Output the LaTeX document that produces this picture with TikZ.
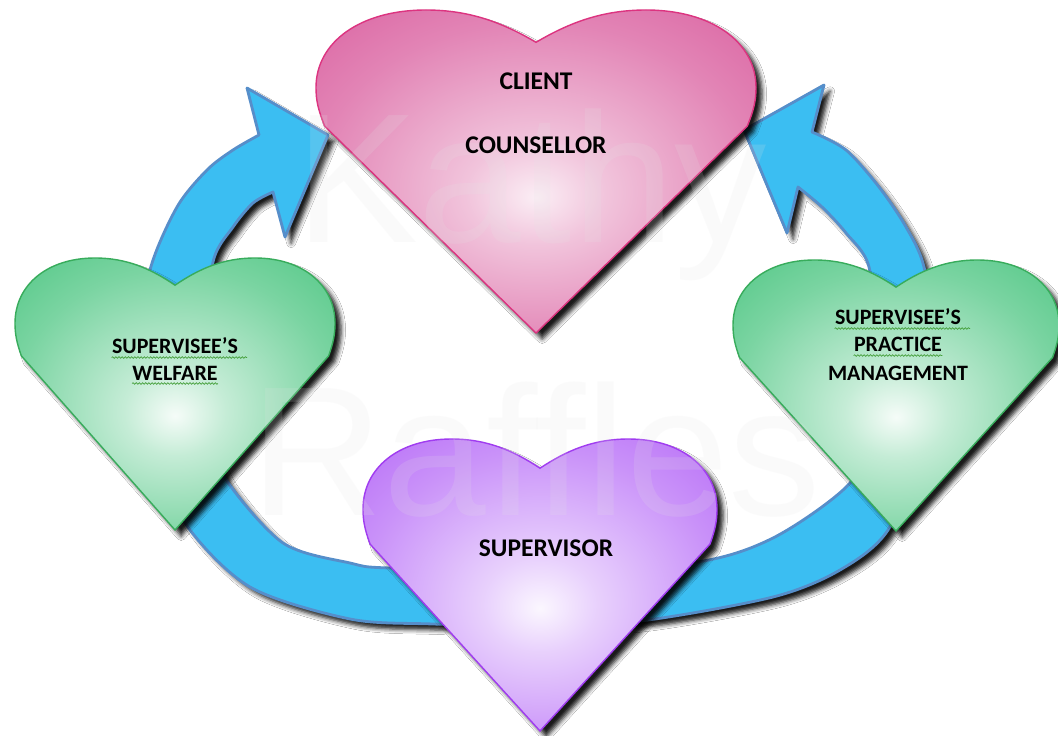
\documentclass[tikz,border=0pt]{standalone}
\usepackage{fontspec}
\setmainfont{Carlito}
\newfontfamily\markfont{Liberation Sans}
\usetikzlibrary{shadows.blur,decorations.pathmorphing}

\definecolor{pinkline}{RGB}{220,52,128}
\definecolor{pinkfill}{RGB}{214,80,150}
\definecolor{greenline}{RGB}{56,172,92}
\definecolor{greenfill}{RGB}{60,192,118}
\definecolor{violetline}{RGB}{160,60,240}
\definecolor{violetfill}{RGB}{174,90,246}
\definecolor{ringfill}{RGB}{59,190,242}
\definecolor{ringline}{RGB}{86,142,202}
\definecolor{squig}{RGB}{70,160,60}

\pgfdeclareradialshading{pinkglow}{\pgfpoint{0bp}{-4bp}}{color(0bp)=(pinkfill!10!white); color(8bp)=(pinkfill!34!white); color(25bp)=(pinkfill!70!white); color(40bp)=(pinkfill!94!white); color(50bp)=(pinkfill)}
\pgfdeclareradialshading{greenglow}{\pgfpoint{0bp}{-4bp}}{color(0bp)=(greenfill!5!white); color(8bp)=(greenfill!30!white); color(25bp)=(greenfill!68!white); color(40bp)=(greenfill!94!white); color(50bp)=(greenfill)}
\pgfdeclareradialshading{violetglow}{\pgfpoint{0bp}{-4bp}}{color(0bp)=(violetfill!5!white); color(8bp)=(violetfill!28!white); color(25bp)=(violetfill!66!white); color(40bp)=(violetfill!94!white); color(50bp)=(violetfill)}

\tikzset{
  soft shadow/.style={blur shadow={shadow xshift=3.5pt, shadow yshift=-3.5pt,
      shadow blur radius=2.5pt, shadow opacity=90}},
  heart/.style={draw=#1line, line width=0.8pt, shade, shading=#1glow, soft shadow},
  ring/.style={draw=ringline, line width=1.6pt, fill=ringfill, line join=round, soft shadow},
  watermark/.style={inner sep=0pt, text=gray!20, text opacity=0.16,
      font=\markfont\fontsize{105}{110}\selectfont},
  biglabel/.style={anchor=base, inner sep=0pt, font=\bfseries\fontsize{14.5}{17}\selectfont},
  smalllabel/.style={anchor=base, inner sep=0pt, font=\bfseries\fontsize{12.5}{15}\selectfont},
  squiggle/.style={draw=squig, line width=0.4pt, decorate,
      decoration={snake, amplitude=0.45pt, segment length=1.8pt}},
  pics/heart/.style={code={
    \path[heart=#1] (0,1) -- (-0.96,0.36)
      .. controls (-0.99,0.31) and (-1,0.28) .. (-1,0.24)
      .. controls (-1,0.1) and (-0.8,0) .. (-0.5,0)
      .. controls (-0.3,0) and (-0.15,0.04) .. (0,0.1)
      .. controls (0.15,0.04) and (0.3,0) .. (0.5,0)
      .. controls (0.8,0) and (1,0.1) .. (1,0.24)
      .. controls (1,0.28) and (0.99,0.31) .. (0.96,0.36) -- cycle;
  }}
}

\begin{document}
\begin{tikzpicture}[x=0.02cm, y=-0.02cm]
  \useasboundingbox[fill=white] (0,0) rectangle (1058,736);

  % Ring
  \path[ring] plot[smooth] coordinates {(560,627) (433,624) (350,619) (250,587) (185,523)
      (150,440) (140,350) (150,270) (177,207) (207,170) (233,150) (259,135)}
    -- (247,88) -- (328,135) -- (285,237)
    -- plot[smooth] coordinates {(273,192) (253,203) (233,227) (213,262) (205,350)
      (212,430) (225,478) (283,543) (350,563) (390,568) (560,570)} -- cycle;
  \path[ring] plot[smooth] coordinates {(520,627) (640,621) (773,597) (840,570) (888,530)
      (925,440) (937,350) (924,267) (906,227) (879,187) (846,150) (812,132)}
    -- (824,85) -- (744,130) -- (787,233)
    -- plot[smooth] coordinates {(798,187) (822,207) (846,233) (869,267) (876,350)
      (866,430) (850,483) (773,538) (690,563) (520,570)} -- cycle;

  % Hearts
  \pic[xscale=220, yscale=323] at (536,10) {heart=pink};
  \pic[xscale=160, yscale=272] at (175,258) {heart=green};
  \pic[xscale=163, yscale=271] at (896,260) {heart=green};
  \pic[xscale=177, yscale=292] at (540,439) {heart=violet};

  % Watermark
  \node[watermark, anchor=base west] (kathy)   at (295,243) {Kathy};
  \node[watermark, anchor=base west] (raffles) at (250,515) {Raffles};

  % Labels
  \node[biglabel]   (client)     at (536,90)  {CLIENT};
  \node[biglabel]   (counsellor) at (536,154) {COUNSELLOR};
  \node[biglabel]   (supervisor) at (546,556) {SUPERVISOR};
  \node[smalllabel] (welfA)      at (175,354) {SUPERVISEE’S};
  \node[smalllabel] (welfB)      at (175,380) {WELFARE};
  \node[smalllabel] (pracA)      at (898,325) {SUPERVISEE’S};
  \node[smalllabel] (pracB)      at (898,352) {PRACTICE};
  \node[smalllabel] (pracC)      at (898,380) {MANAGEMENT};

  % Spelling marks
  \draw[squiggle] ([yshift=-2pt]welfA.base west) -- ([yshift=-2pt, xshift=5pt]welfA.base east);
  \draw[squiggle] ([yshift=-2pt]welfB.base west) -- ([yshift=-2pt]welfB.base east);
  \draw[squiggle] ([yshift=-2pt]pracA.base west) -- ([yshift=-2pt, xshift=5pt]pracA.base east);
  \draw[squiggle] ([yshift=-2pt]pracB.base west) -- ([yshift=-2pt]pracB.base east);
\end{tikzpicture}
\end{document}
